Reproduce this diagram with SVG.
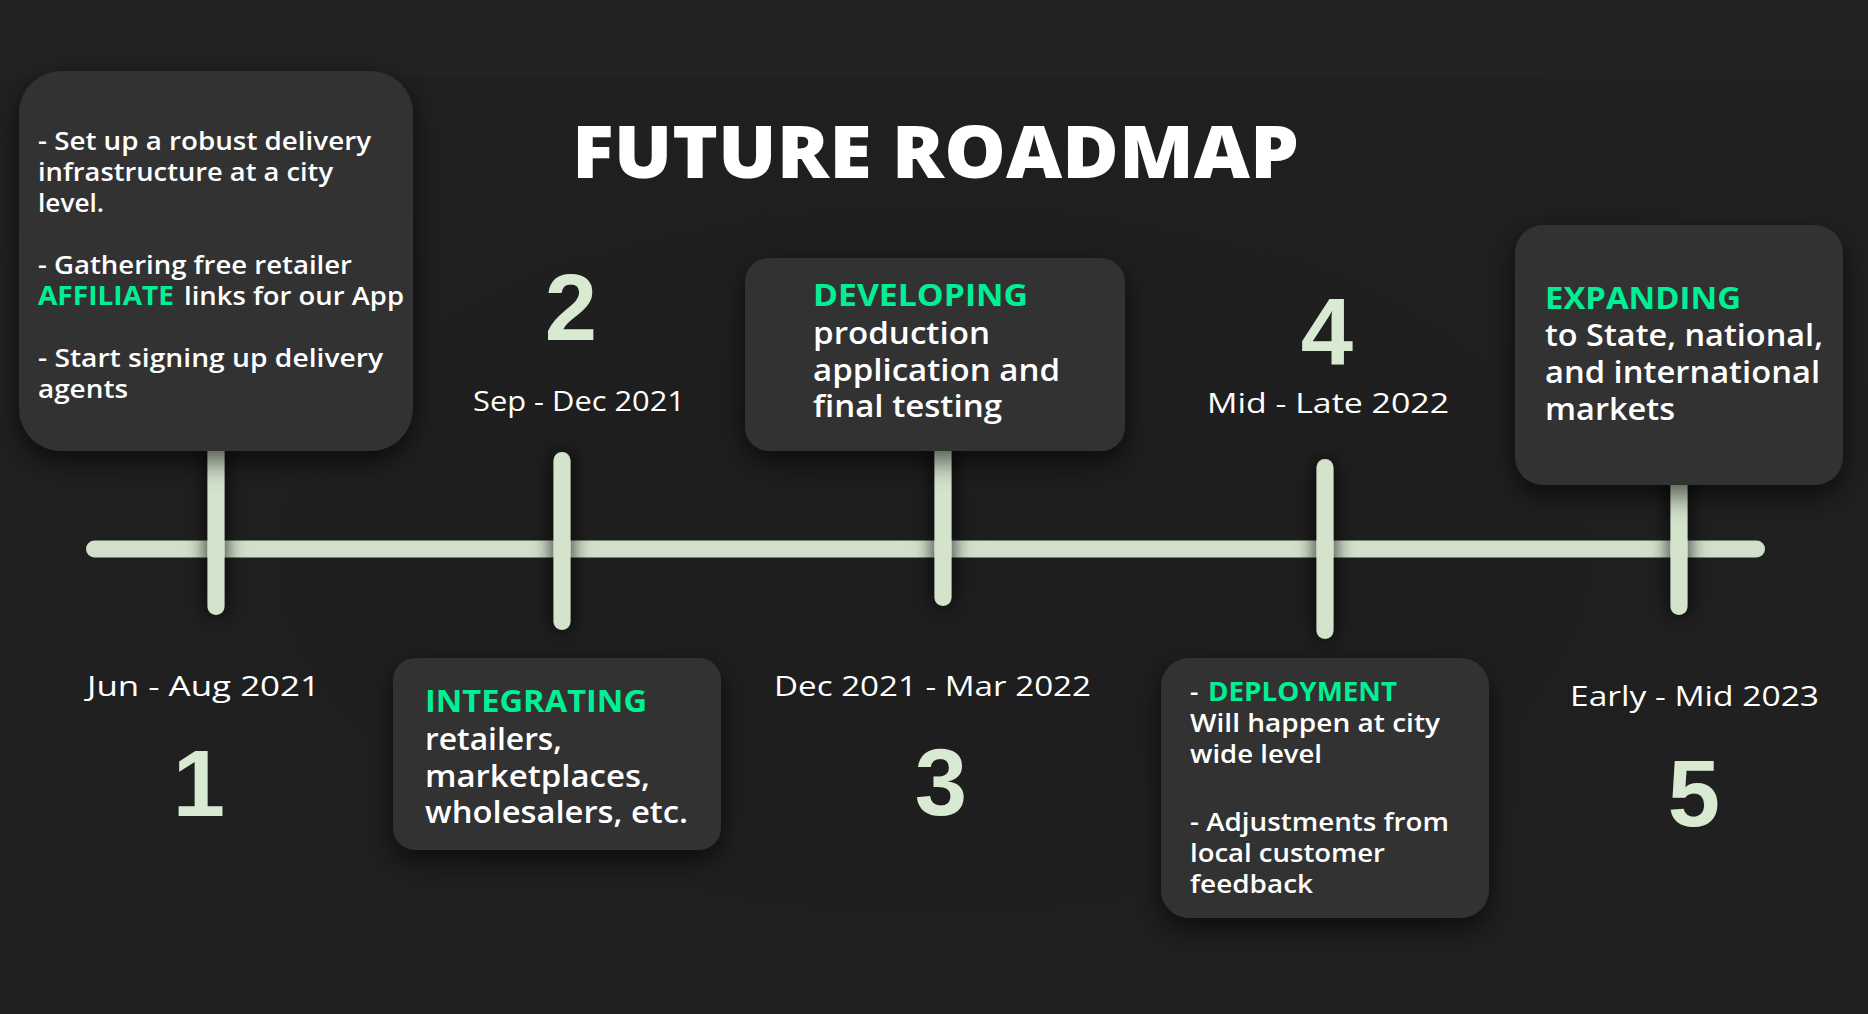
<svg xmlns="http://www.w3.org/2000/svg" width="1868" height="1014" viewBox="0 0 1868 1014">
  <defs>
    <filter id="boxShadow" x="-30%" y="-30%" width="160%" height="170%">
      <feDropShadow dx="0" dy="10" stdDeviation="14" flood-color="#000" flood-opacity="0.65"/>
    </filter>
    <filter id="tickShadow" x="-400%" y="-20%" width="900%" height="140%">
      <feDropShadow dx="0" dy="0" stdDeviation="10" flood-color="#000" flood-opacity="0.9"/>
    </filter>
    <radialGradient id="bgGrad" cx="50%" cy="55%" r="70%">
      <stop offset="0" stop-color="#1d1d1d"/>
      <stop offset="1" stop-color="#212121"/>
    </radialGradient>
    <style>
      .box { fill: #303030; filter: url(#boxShadow); }
      .body { font-family: "Open Sans", "Liberation Sans", sans-serif; font-weight: 600; fill: #ffffff; }
      .b26 { font-size: 26px; }
      .b30 { font-size: 30px; }
      .hl { font-family: "Open Sans", "Liberation Sans", sans-serif; font-weight: 700; fill: #00f096; }
      .date { font-family: "Open Sans", "Liberation Sans", sans-serif; font-weight: 500; font-size: 28px; fill: #ffffff; }
      .num { font-family: "Liberation Sans", Arial, sans-serif; font-weight: 700; font-size: 94px; fill: #d9ead3; text-anchor: middle; }
      .title { font-family: "Open Sans", "Liberation Sans", sans-serif; font-weight: 800; font-size: 72px; fill: #ffffff; }
      .tick { fill: #d3e3cc; filter: url(#tickShadow); }
      .bar { fill: #d0e0ca; }
    </style>
  </defs>

  <!-- background -->
  <rect x="0" y="0" width="1868" height="1014" fill="url(#bgGrad)"/>
  <rect x="0" y="0" width="1868" height="77" fill="#222222"/>

  <!-- title -->
  <text class="title" x="572" y="178" textLength="727" lengthAdjust="spacingAndGlyphs">FUTURE ROADMAP</text>

  <!-- connectors: timeline bar and ticks -->
  <g id="connectors">
    <rect class="bar" x="86" y="540.5" width="1679" height="17" rx="8.5" ry="8.5"/>
    <rect class="tick" x="207.5" y="440" width="17" height="175" rx="8.5" ry="8.5"/>
    <rect class="tick" x="553.5" y="452" width="17" height="178" rx="8.5" ry="8.5"/>
    <rect class="tick" x="934.5" y="440" width="17" height="166" rx="8.5" ry="8.5"/>
    <rect class="tick" x="1316.5" y="459" width="17" height="180" rx="8.5" ry="8.5"/>
    <rect class="tick" x="1670.5" y="470" width="17" height="145" rx="8.5" ry="8.5"/>
  </g>

  <!-- milestone 1 -->
  <g id="node-1">
    <rect class="box" x="19" y="71" width="394" height="380" rx="42" ry="42"/>
    <text class="body b26" x="38" y="150" textLength="333" lengthAdjust="spacingAndGlyphs">- Set up a robust delivery</text>
    <text class="body b26" x="38" y="181" textLength="295" lengthAdjust="spacingAndGlyphs">infrastructure at a city</text>
    <text class="body b26" x="38" y="212" textLength="66" lengthAdjust="spacingAndGlyphs">level.</text>
    <text class="body b26" x="38" y="274" textLength="314" lengthAdjust="spacingAndGlyphs">- Gathering free retailer</text>
    <text class="hl b26" x="38" y="305" textLength="136" lengthAdjust="spacingAndGlyphs">AFFILIATE</text>
    <text class="body b26" x="184" y="305" textLength="220" lengthAdjust="spacingAndGlyphs">links for our App</text>
    <text class="body b26" x="38" y="367" textLength="345" lengthAdjust="spacingAndGlyphs">- Start signing up delivery</text>
    <text class="body b26" x="38" y="398" textLength="90" lengthAdjust="spacingAndGlyphs">agents</text>
    <text class="date" x="87" y="696" textLength="233" lengthAdjust="spacingAndGlyphs">Jun - Aug 2021</text>
    <text class="num" x="199" y="816">1</text>
  </g>

  <!-- milestone 2 -->
  <g id="node-2">
    <text class="num" x="571" y="340">2</text>
    <text class="date" x="473" y="411" textLength="212" lengthAdjust="spacingAndGlyphs">Sep - Dec 2021</text>
    <rect class="box" x="393" y="658" width="328" height="192" rx="22" ry="22"/>
    <text class="hl b30" x="425" y="712" textLength="222" lengthAdjust="spacingAndGlyphs">INTEGRATING</text>
    <text class="body b30" x="425" y="750" textLength="137" lengthAdjust="spacingAndGlyphs">retailers,</text>
    <text class="body b30" x="425" y="787" textLength="225" lengthAdjust="spacingAndGlyphs">marketplaces,</text>
    <text class="body b30" x="425" y="823" textLength="263" lengthAdjust="spacingAndGlyphs">wholesalers, etc.</text>
  </g>

  <!-- milestone 3 -->
  <g id="node-3">
    <rect class="box" x="745" y="258" width="380" height="193" rx="24" ry="24"/>
    <text class="hl b30" x="813" y="306" textLength="215" lengthAdjust="spacingAndGlyphs">DEVELOPING</text>
    <text class="body b30" x="813" y="344" textLength="177" lengthAdjust="spacingAndGlyphs">production</text>
    <text class="body b30" x="813" y="381" textLength="247" lengthAdjust="spacingAndGlyphs">application and</text>
    <text class="body b30" x="813" y="417" textLength="189" lengthAdjust="spacingAndGlyphs">final testing</text>
    <text class="date" x="774" y="696" textLength="317" lengthAdjust="spacingAndGlyphs">Dec 2021 - Mar 2022</text>
    <text class="num" x="941" y="815">3</text>
  </g>

  <!-- milestone 4 -->
  <g id="node-4">
    <text class="num" x="1327" y="364">4</text>
    <text class="date" x="1207" y="413" textLength="242" lengthAdjust="spacingAndGlyphs">Mid - Late 2022</text>
    <rect class="box" x="1161" y="658" width="328" height="260" rx="28" ry="28"/>
    <text class="body b26" x="1190" y="701">-</text>
    <text class="hl b26" x="1208" y="701" textLength="189" lengthAdjust="spacingAndGlyphs">DEPLOYMENT</text>
    <text class="body b26" x="1190" y="732" textLength="250" lengthAdjust="spacingAndGlyphs">Will happen at city</text>
    <text class="body b26" x="1190" y="763" textLength="132" lengthAdjust="spacingAndGlyphs">wide level</text>
    <text class="body b26" x="1190" y="831" textLength="259" lengthAdjust="spacingAndGlyphs">- Adjustments from</text>
    <text class="body b26" x="1190" y="862" textLength="195" lengthAdjust="spacingAndGlyphs">local customer</text>
    <text class="body b26" x="1190" y="893" textLength="123" lengthAdjust="spacingAndGlyphs">feedback</text>
  </g>

  <!-- milestone 5 -->
  <g id="node-5">
    <rect class="box" x="1515" y="225" width="328" height="260" rx="28" ry="28"/>
    <text class="hl b30" x="1545" y="309" textLength="196" lengthAdjust="spacingAndGlyphs">EXPANDING</text>
    <text class="body b30" x="1545" y="346" textLength="278" lengthAdjust="spacingAndGlyphs">to State, national,</text>
    <text class="body b30" x="1545" y="383" textLength="275" lengthAdjust="spacingAndGlyphs">and international</text>
    <text class="body b30" x="1545" y="420" textLength="130" lengthAdjust="spacingAndGlyphs">markets</text>
    <text class="date" x="1570" y="706" textLength="249" lengthAdjust="spacingAndGlyphs">Early - Mid 2023</text>
    <text class="num" x="1694" y="826">5</text>
  </g>
</svg>
